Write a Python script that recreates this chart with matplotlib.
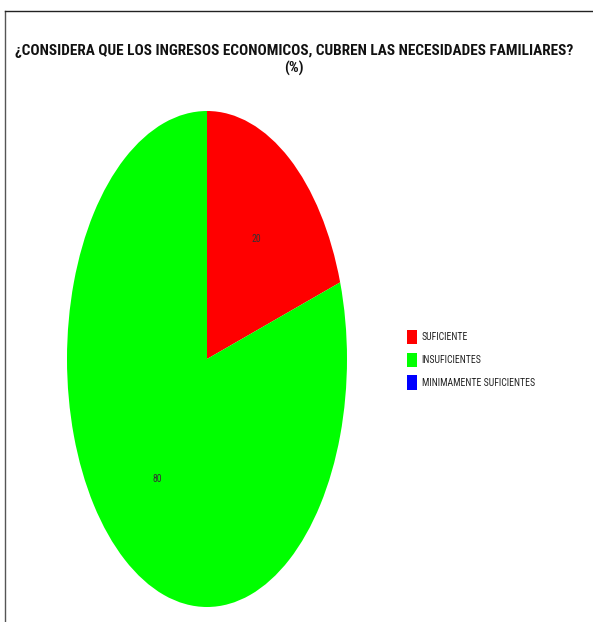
import matplotlib
matplotlib.use("Agg")
import matplotlib.pyplot as plt
from matplotlib.lines import Line2D
from matplotlib.patches import Patch

categorias = ["SUFICIENTE", "INSUFICIENTES", "MINIMAMENTE SUFICIENTES"]
valores = [20, 80, 0]
colores = ["#ff0000", "#00ff00", "#0000ff"]
titulo = "¿CONSIDERA QUE LOS INGRESOS ECONOMICOS, CUBREN LAS NECESIDADES FAMILIARES?\n(%)"

plt.rcParams['font.family'] = ['Roboto Condensed', 'Liberation Sans', 'DejaVu Sans']

W, H = 593, 622
fig = plt.figure(figsize=(W / 100, H / 100), dpi=100)

# pie stretched vertically into an ellipse
ax = fig.add_axes([67 / W, (H - 607) / H, 280 / W, 496 / H])
etiquetas = [str(v) if v > 0 else "" for v in valores]
wedges, texts = ax.pie(valores, colors=colores, startangle=90, counterclock=False,
                       labels=etiquetas, labeldistance=0.6,
                       textprops=dict(fontsize=7, color="#333333"))
for t in texts:
    t.set_horizontalalignment("center")
    t.set_verticalalignment("center")
ax.set_aspect("auto")
ax.set_xlim(-1, 1)
ax.set_ylim(-1, 1)
ax.axis("off")

fig.text(294 / W, 1 - 60 / H, titulo, ha="center", va="center", fontsize=11,
         fontweight="bold", color="#111111", linespacing=1.3)

handles = [Patch(facecolor=c, edgecolor="none") for c in colores]
fig.legend(handles, categorias, loc="upper left",
           bbox_to_anchor=(407 / W, 1 - 330 / H), frameon=False,
           handlelength=1.0, handleheight=1.9, handletextpad=0.5,
           labelspacing=0.85, fontsize=7, labelcolor="#222222",
           borderpad=0, borderaxespad=0)

# border lines along the top and left
fig.add_artist(Line2D([4.5 / W, 4.5 / W], [0, 1 - 10.5 / H], color="#555555", lw=1))
fig.add_artist(Line2D([4.5 / W, 1], [1 - 10.5 / H, 1 - 10.5 / H], color="#222222", lw=1))

fig.savefig("out.png", dpi=100)
